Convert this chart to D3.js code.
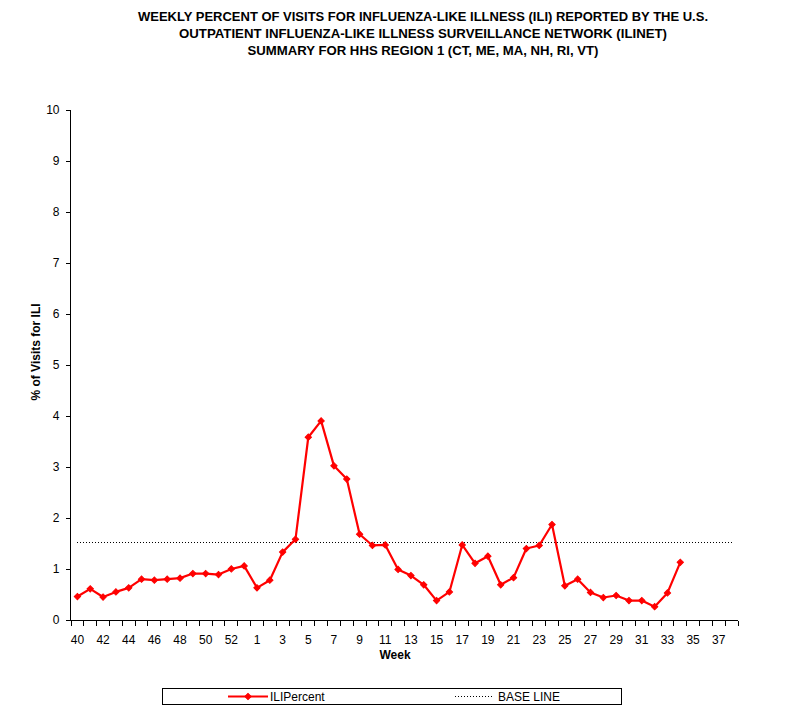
<!DOCTYPE html>
<html>
<head>
<meta charset="utf-8">
<script src="https://cdn.jsdelivr.net/npm/d3@7"></script>
<style>
	body { margin: 0; background: #fff; }
	svg text { font-family: 'Liberation Sans', Arial, sans-serif; }
	.title { font-size: 12px; font-weight: bold; }
	.tick text { font-size: 12px; }
	.axis-label { font-size: 12px; font-weight: bold; }
	.legend text { font-size: 12px; }
</style>
</head>
<body>
<svg id="chart" width="801" height="715"></svg>
<script>
'use strict';

// weeks of the season, 2008 wk 40 .. 2009 wk 38
var weeks = ['40','41','42','43','44','45','46','47','48','49','50','51','52','53',
	'1','2','3','4','5','6','7','8','9','10','11','12','13','14','15','16','17','18','19',
	'20','21','22','23','24','25','26','27','28','29','30','31','32','33','34','35','36','37','38'];

var iliPercent = [0.46, 0.61, 0.45, 0.55, 0.63, 0.80, 0.78, 0.80, 0.82, 0.91, 0.91, 0.89, 1.00, 1.06,
	0.63, 0.78, 1.33, 1.58, 3.58, 3.90, 3.02, 2.76, 1.68, 1.46, 1.47, 0.99, 0.87, 0.69, 0.38, 0.55,
	1.47, 1.11, 1.25, 0.69, 0.83, 1.40, 1.46, 1.87, 0.67, 0.80, 0.54, 0.44, 0.48, 0.38, 0.38, 0.26,
	0.53, 1.13, null, null, null, null];

var baseLine = 1.52;

var yTicks = [0, 1, 2, 3, 4, 5, 6, 7, 8, 9, 10];

var titleLines = [
	'WEEKLY PERCENT OF VISITS FOR INFLUENZA-LIKE ILLNESS (ILI) REPORTED BY THE U.S.',
	'OUTPATIENT INFLUENZA-LIKE ILLNESS SURVEILLANCE NETWORK (ILINET)',
	'SUMMARY FOR HHS REGION 1 (CT, ME, MA, NH, RI, VT)'
];
var titleWidths = [570, 488, 351];

var legendItems = ['ILIPercent', 'BASE LINE'];

var red = '#ff0000';
var svg = d3.select('#chart');

var x = d3.scaleBand()
	.domain(weeks)
	.range([71, 738])
	.padding(0);

var y = d3.scaleLinear()
	.domain([0, 10])
	.range([620, 109.5]);

// Title
svg.append('g').selectAll('text')
	.data(titleLines)
	.enter()
	.append('text')
		.attr('class', 'title')
		.attr('x', 423)
		.attr('y', function(d, i){ return 21 + i * 17; })
		.attr('text-anchor', 'middle')
		.attr('textLength', function(d, i){ return titleWidths[i]; })
		.attr('lengthAdjust', 'spacingAndGlyphs')
		.text(function(d){ return d; });

// Y axis
var yAxis = svg.append('g')
	.attr('transform', 'translate(70.5,0)')
	.call(d3.axisLeft(y).tickValues(yTicks).tickSize(5).tickPadding(6));
yAxis.selectAll('path, line').attr('stroke', '#000').attr('shape-rendering', 'crispEdges');
yAxis.select('.domain').attr('d', 'M0,' + y(10) + 'V' + (y(0) + 0.5));
yAxis.selectAll('text').attr('fill', '#000');

// X axis: ticks between categories, labels on every second week
var xAxis = svg.append('g')
	.attr('transform', 'translate(0,620.5)');
xAxis.append('line')
	.attr('x1', x.range()[0])
	.attr('x2', x.range()[1])
	.attr('stroke', '#000')
	.attr('shape-rendering', 'crispEdges');
xAxis.selectAll('line.tick-mark')
	.data(weeks.concat(['end']))
	.enter()
	.append('line')
		.attr('class', 'tick-mark')
		.attr('x1', function(d){ return d === 'end' ? x.range()[1] : x(d); })
		.attr('x2', function(d){ return d === 'end' ? x.range()[1] : x(d); })
		.attr('y1', 0)
		.attr('y2', 5)
		.attr('stroke', '#000')
		.attr('shape-rendering', 'crispEdges');
xAxis.selectAll('text')
	.data(weeks.filter(function(d, i){ return i % 2 === 0; }))
	.enter()
	.append('text')
		.attr('x', function(d){ return x(d) + x.bandwidth() / 2; })
		.attr('y', 23)
		.attr('text-anchor', 'middle')
		.style('font-size', '12px')
		.text(function(d){ return d; });

// Axis titles
svg.append('text')
	.attr('class', 'axis-label')
	.attr('x', 395)
	.attr('y', 659)
	.attr('text-anchor', 'middle')
	.text('Week');
svg.append('text')
	.attr('class', 'axis-label')
	.attr('transform', 'translate(40,352) rotate(-90)')
	.attr('text-anchor', 'middle')
	.text('% of Visits for ILI');

var cx = function(d){ return x(d) + x.bandwidth() / 2; };

// Baseline
svg.append('line')
	.attr('x1', Math.round(cx(weeks[0])))
	.attr('x2', Math.round(cx(weeks[weeks.length - 1])))
	.attr('y1', Math.round(y(baseLine)) + 0.5)
	.attr('y2', Math.round(y(baseLine)) + 0.5)
	.attr('stroke', '#000')
	.attr('stroke-width', 1)
	.attr('stroke-dasharray', '1,2')
	.attr('shape-rendering', 'crispEdges');

// ILI series
var points = weeks.map(function(w, i){ return { week: w, value: iliPercent[i] }; })
	.filter(function(d){ return d.value !== null; });

var line = d3.line()
	.x(function(d){ return cx(d.week); })
	.y(function(d){ return y(d.value); });

svg.append('path')
	.datum(points)
	.attr('d', line)
	.attr('fill', 'none')
	.attr('stroke', red)
	.attr('stroke-width', 2.2)
	.attr('stroke-linejoin', 'round');

var diamond = d3.symbol().type(d3.symbolSquare).size(20);
svg.append('g').selectAll('path')
	.data(points)
	.enter()
	.append('path')
		.attr('d', diamond)
		.attr('transform', function(d){ return 'translate(' + cx(d.week) + ',' + y(d.value) + ') rotate(45)'; })
		.attr('fill', red)
		.attr('stroke', red)
		.attr('stroke-width', 1);

// Legend
var legend = svg.append('g').attr('class', 'legend');
legend.append('rect')
	.attr('x', 162.5)
	.attr('y', 688.5)
	.attr('width', 459)
	.attr('height', 16)
	.attr('fill', '#fff')
	.attr('stroke', '#000');
legend.append('line')
	.attr('x1', 228).attr('x2', 268)
	.attr('y1', 696.5).attr('y2', 696.5)
	.attr('stroke', red)
	.attr('stroke-width', 2.2);
legend.append('path')
	.attr('d', diamond)
	.attr('transform', 'translate(248,696.5) rotate(45)')
	.attr('fill', red)
	.attr('stroke', red);
legend.append('line')
	.attr('x1', 455).attr('x2', 494)
	.attr('y1', 696.5).attr('y2', 696.5)
	.attr('stroke', '#000')
	.attr('stroke-dasharray', '1,2')
	.attr('shape-rendering', 'crispEdges');
legend.selectAll('text')
	.data(legendItems)
	.enter()
	.append('text')
		.attr('x', function(d, i){ return i === 0 ? 270 : 498; })
		.attr('y', 701)
		.text(function(d){ return d; });
</script>
</body>
</html>
